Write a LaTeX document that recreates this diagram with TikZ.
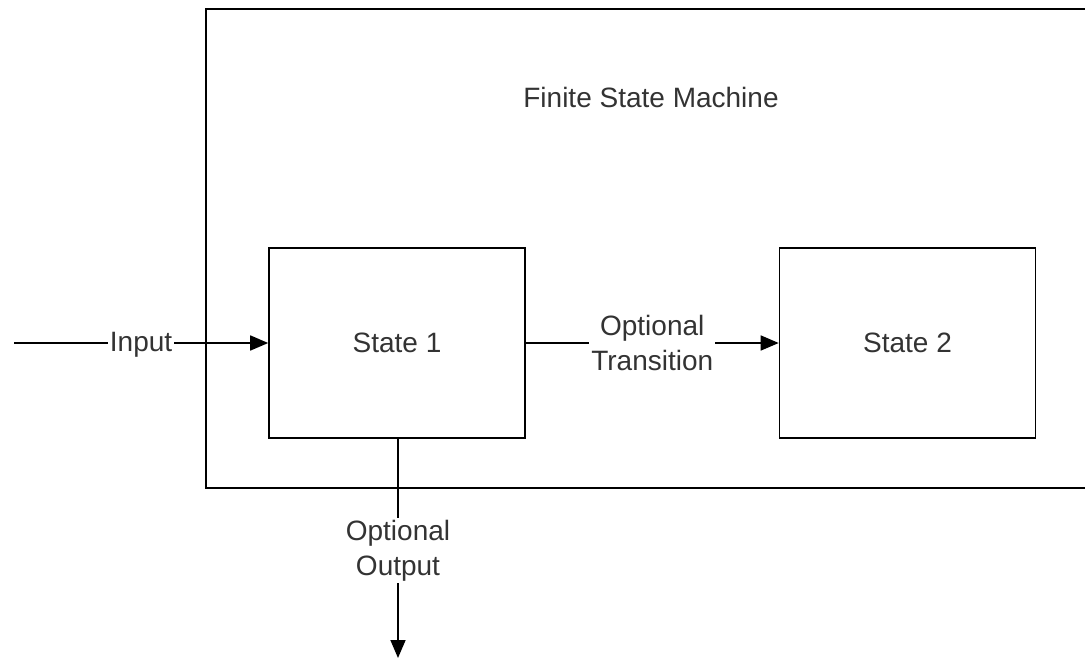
\documentclass[tikz,border=0pt]{standalone}
\usepackage{fontspec}
\setmainfont{Liberation Sans}
\usetikzlibrary{arrows.meta}
\begin{document}
\begin{tikzpicture}[x=1pt,y=-1pt,
  line width=1.6pt,
  every node/.style={font=\fontsize{28}{35}\selectfont, text=black!80},
  statebox/.style={draw, minimum width=256pt, minimum height=190pt, inner sep=0pt},
  flowlabel/.style={fill=white, inner sep=2pt, align=center},
  flow/.style={-{Triangle[length=18pt,width=15pt]}}]
\useasboundingbox (0,0) rectangle (1085,659);
% enclosing machine frame, open on the right
\draw (1095,9) -- (206,9) -- (206,488) -- (1095,488);
\node (title) at (651,97) {Finite State Machine};
% states
\node[statebox] (s1) at (397,343) {State 1};
\node[statebox] (s2) at (907.5,343) {State 2};
% connectors
\coordinate (in) at (14,343);
\coordinate (out) at (398,658);
\draw[flow] (in) -- node[flowlabel, yshift=-2pt] {Input} (s1.west);
\draw[flow] (s1.east) -- node[flowlabel] {Optional\\Transition} (s2.west);
\draw[flow] (s1.south -| out) -- node[flowlabel, yshift=-2pt] {Optional\\Output} (out);
\end{tikzpicture}
\end{document}
